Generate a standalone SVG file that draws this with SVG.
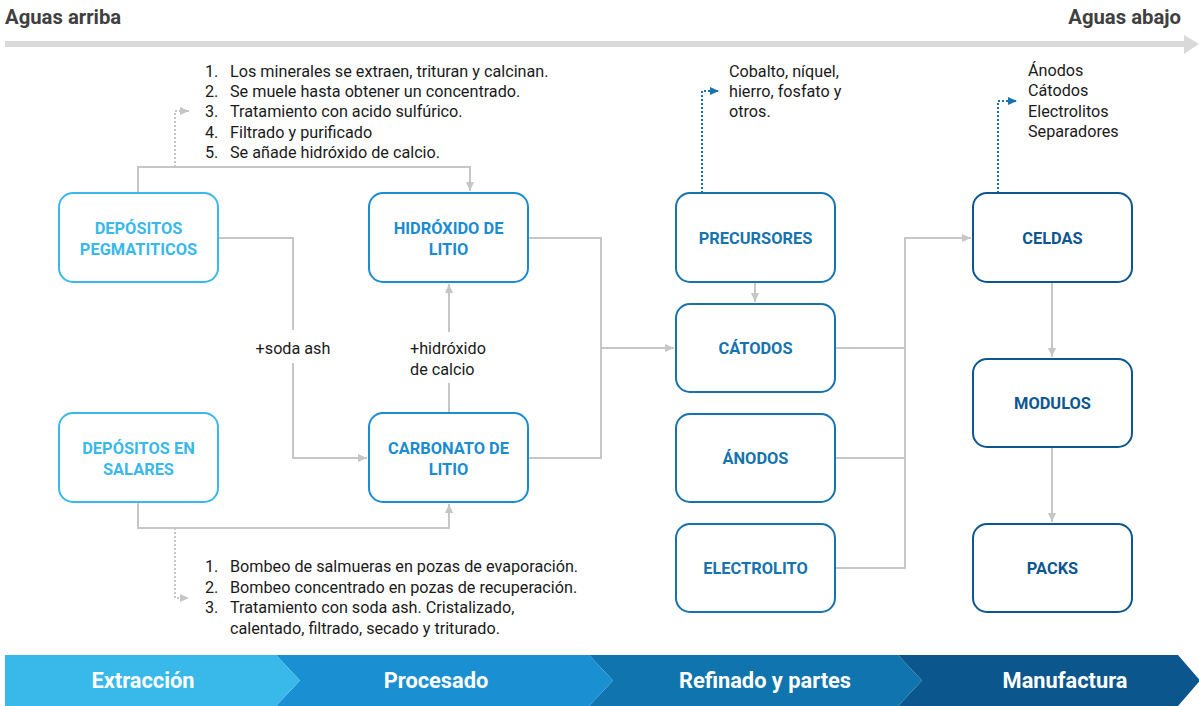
<svg xmlns="http://www.w3.org/2000/svg" width="1199" height="706" viewBox="0 0 1199 706">
<defs>
<marker id="ag" markerWidth="10" markerHeight="10" refX="9" refY="5" orient="auto" markerUnits="userSpaceOnUse"><path d="M0,1 L9,5 L0,9 z" fill="#c6c6c6"/></marker>
<marker id="agd" markerWidth="10" markerHeight="10" refX="9" refY="5" orient="auto" markerUnits="userSpaceOnUse"><path d="M0,1 L9,5 L0,9 z" fill="#c6c6c6"/></marker>
<marker id="ab" markerWidth="10" markerHeight="10" refX="9" refY="5" orient="auto" markerUnits="userSpaceOnUse"><path d="M0,1 L9,5 L0,9 z" fill="#1673ad"/></marker>
<style>
.box{fill:#fff;stroke-width:2}
.c1{stroke:#3bb8ea}.t1{fill:#3bb8ea}
.c2{stroke:#1b8cd0}.t2{fill:#1b8cd0}
.c3{stroke:#1673ad}.t3{fill:#1673ad}
.c4{stroke:#0d568f}.t4{fill:#0d568f}
.nt{font-family:Roboto,"Liberation Sans",sans-serif;font-weight:700;font-size:16.4px;text-anchor:middle}
.tx{font-family:Roboto,"Liberation Sans",sans-serif;font-size:16.2px;fill:#1a1a1a}
.hd{font-family:Roboto,"Liberation Sans",sans-serif;font-weight:700;font-size:20.3px;fill:#404040}
.bn{font-family:Roboto,"Liberation Sans",sans-serif;font-weight:700;font-size:21.8px;fill:#fff;text-anchor:middle}
.ln{fill:none;stroke:#c6c6c6;stroke-width:2}
.dg{fill:none;stroke:#c6c6c6;stroke-width:2;stroke-dasharray:2 2}
.db{fill:none;stroke:#1673ad;stroke-width:2;stroke-dasharray:2 2}
</style>
</defs>
<rect width="1199" height="706" fill="#fff"/>

<g id="header">
<text class="hd" x="5" y="24">Aguas arriba</text>
<text class="hd" x="1181" y="24" text-anchor="end">Aguas abajo</text>
<rect x="5" y="41" width="1180" height="6" fill="#d9d9d9"/>
<polygon points="1184,35 1199,44 1184,54" fill="#d9d9d9"/>
</g>

<g id="connectors">
<path class="ln" d="M138,193 V167 H470 V191" marker-end="url(#ag)"/>
<path class="dg" d="M175,167 V111 H189" marker-end="url(#agd)"/>
<path class="ln" d="M218,238 H293 V330"/>
<path class="ln" d="M293,363 V458 H367" marker-end="url(#ag)"/>
<path class="ln" d="M449,413 V383"/>
<path class="ln" d="M449,332 V284" marker-end="url(#ag)"/>
<path class="ln" d="M138,502 V528 H449 V504" marker-end="url(#ag)"/>
<path class="dg" d="M175,528 V598 H189" marker-end="url(#agd)"/>
<path class="ln" d="M528,238 H601 V458 H528"/>
<path class="ln" d="M601,348 H674" marker-end="url(#ag)"/>
<path class="ln" d="M755,282 V302" marker-end="url(#ag)"/>
<path class="db" d="M702,193 V91 H719" marker-end="url(#ab)"/>
<path class="ln" d="M835,348 H905 M835,458 H905 M835,568 H905 V238 H971" marker-end="url(#ag)"/>
<path class="ln" d="M1052,282 V357" marker-end="url(#ag)"/>
<path class="ln" d="M1052,447 V522" marker-end="url(#ag)"/>
<path class="db" d="M998,193 V101 H1017" marker-end="url(#ab)"/>
</g>

<g id="labels">
<text class="tx" x="293" y="354" text-anchor="middle">+soda ash</text>
<text class="tx" x="410" y="354">+hidróxido</text>
<text class="tx" x="410" y="375">de calcio</text>
</g>

<g id="list-top">
<text class="tx" x="205" y="77">1.</text><text class="tx" x="230" y="77">Los minerales se extraen, trituran y calcinan.</text>
<text class="tx" x="205" y="97">2.</text><text class="tx" x="230" y="97">Se muele hasta obtener un concentrado.</text>
<text class="tx" x="205" y="117">3.</text><text class="tx" x="230" y="117">Tratamiento con acido sulfúrico.</text>
<text class="tx" x="205" y="138">4.</text><text class="tx" x="230" y="138">Filtrado y purificado</text>
<text class="tx" x="205" y="158">5.</text><text class="tx" x="230" y="158">Se añade hidróxido de calcio.</text>
</g>

<g id="list-bottom">
<text class="tx" x="205" y="572">1.</text><text class="tx" x="230" y="572">Bombeo de salmueras en pozas de evaporación.</text>
<text class="tx" x="205" y="593">2.</text><text class="tx" x="230" y="593">Bombeo concentrado en pozas de recuperación.</text>
<text class="tx" x="205" y="613">3.</text><text class="tx" x="230" y="613">Tratamiento con soda ash. Cristalizado,</text>
<text class="tx" x="230" y="634">calentado, filtrado, secado y triturado.</text>
</g>

<g id="list-precursores">
<text class="tx" x="729" y="77">Cobalto, níquel,</text>
<text class="tx" x="729" y="97">hierro, fosfato y</text>
<text class="tx" x="729" y="117">otros.</text>
</g>

<g id="list-celdas">
<text class="tx" x="1028" y="76">Ánodos</text>
<text class="tx" x="1028" y="96">Cátodos</text>
<text class="tx" x="1028" y="117">Electrolitos</text>
<text class="tx" x="1028" y="137">Separadores</text>
</g>

<g id="n-pegmatiticos"><rect class="box c1" x="59" y="193" width="159" height="89" rx="14"/><text class="nt t1" x="138.5" y="234">DEPÓSITOS</text><text class="nt t1" x="138.5" y="255">PEGMATITICOS</text></g>
<g id="n-salares"><rect class="box c1" x="59" y="413" width="159" height="89" rx="14"/><text class="nt t1" x="138.5" y="454">DEPÓSITOS EN</text><text class="nt t1" x="138.5" y="475">SALARES</text></g>
<g id="n-hidroxido"><rect class="box c2" x="369" y="193" width="159" height="89" rx="14"/><text class="nt t2" x="448.5" y="234">HIDRÓXIDO DE</text><text class="nt t2" x="448.5" y="255">LITIO</text></g>
<g id="n-carbonato"><rect class="box c2" x="369" y="413" width="159" height="89" rx="14"/><text class="nt t2" x="448.5" y="454">CARBONATO DE</text><text class="nt t2" x="448.5" y="475">LITIO</text></g>
<g id="n-precursores"><rect class="box c3" x="676" y="193" width="159" height="89" rx="14"/><text class="nt t3" x="755.5" y="244">PRECURSORES</text></g>
<g id="n-catodos"><rect class="box c3" x="676" y="304" width="159" height="88" rx="14"/><text class="nt t3" x="755.5" y="354">CÁTODOS</text></g>
<g id="n-anodos"><rect class="box c3" x="676" y="414" width="159" height="88" rx="14"/><text class="nt t3" x="755.5" y="464">ÁNODOS</text></g>
<g id="n-electrolito"><rect class="box c3" x="676" y="524" width="159" height="88" rx="14"/><text class="nt t3" x="755.5" y="574">ELECTROLITO</text></g>
<g id="n-celdas"><rect class="box c4" x="973" y="193" width="159" height="89" rx="14"/><text class="nt t4" x="1052.5" y="244">CELDAS</text></g>
<g id="n-modulos"><rect class="box c4" x="973" y="359" width="159" height="88" rx="14"/><text class="nt t4" x="1052.5" y="409">MODULOS</text></g>
<g id="n-packs"><rect class="box c4" x="973" y="524" width="159" height="88" rx="14"/><text class="nt t4" x="1052.5" y="574">PACKS</text></g>

<g id="banner">
<polygon points="898,655 1178,655 1200,680.5 1178,706 898,706 922,680.5" fill="#0b568c"/>
<polygon points="589,655 898,655 922,680.5 898,706 589,706 613,680.5" fill="#1074ae"/>
<polygon points="276,655 589,655 613,680.5 589,706 276,706 300,680.5" fill="#1a8fd1"/>
<polygon points="5,655 276,655 300,680.5 276,706 5,706" fill="#38b9ea"/>
<text class="bn" x="143" y="688">Extracción</text>
<text class="bn" x="436" y="688">Procesado</text>
<text class="bn" x="765" y="688">Refinado y partes</text>
<text class="bn" x="1065" y="688">Manufactura</text>
</g>
</svg>
